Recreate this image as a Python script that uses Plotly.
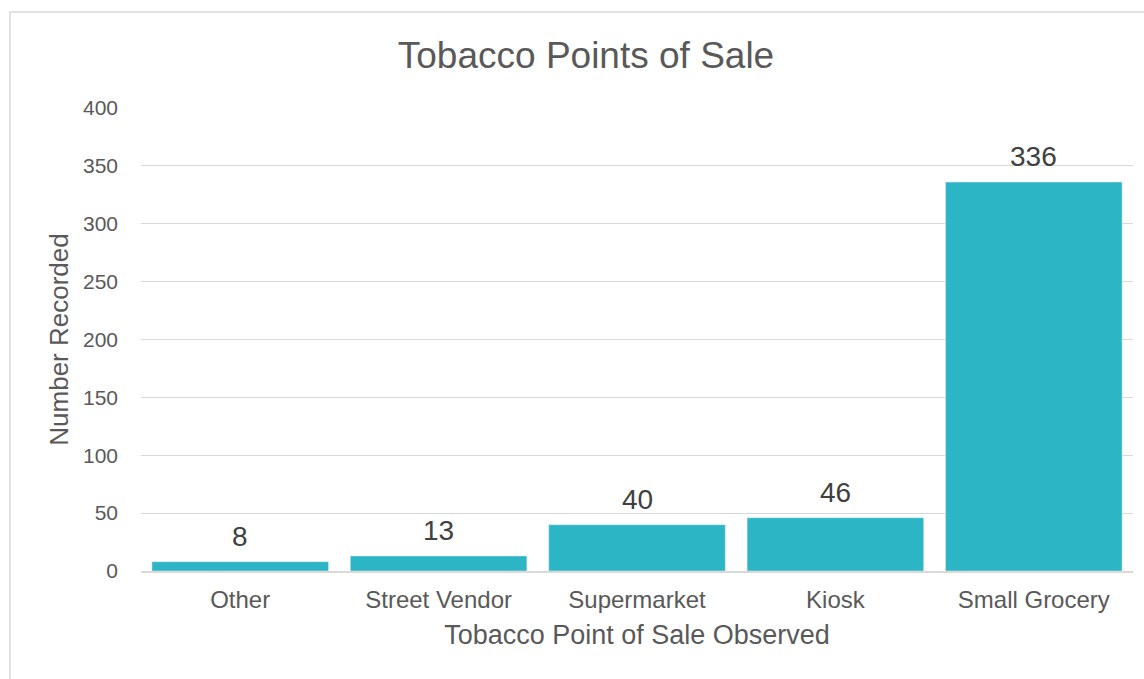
import plotly.graph_objects as go

categories = ["Other", "Street Vendor", "Supermarket", "Kiosk", "Small Grocery"]
counts = [8, 13, 40, 46, 336]
y_ticks = [0, 50, 100, 150, 200, 250, 300, 350, 400]

BAR = "#2CB5C4"
TXT = "#595959"
FONT = "Arial, 'Liberation Sans', sans-serif"

W, H = 1144, 679
L, R, T, B = 141, 11, 108, 108
pw, ph = W - L - R, H - T - B

fig = go.Figure(go.Bar(x=categories, y=counts, marker_color=BAR, width=0.89))

for c, v in zip(categories, counts):
    fig.add_annotation(x=c, y=v, text=str(v), showarrow=False, yanchor="bottom",
                       yshift=8, font=dict(size=28, color="#404040", family=FONT))

# outer chart border
fig.add_shape(type="rect", xref="paper", yref="paper",
              x0=(10 - L) / pw, x1=(1162 - L) / pw,
              y0=-(700 - (H - B)) / ph, y1=1 + (T - 12) / ph,
              line=dict(color="#D9D9D9", width=1.5), fillcolor="rgba(0,0,0,0)", layer="below")

fig.update_layout(
    width=W, height=H,
    margin=dict(l=L, r=R, t=T, b=B),
    paper_bgcolor="white", plot_bgcolor="white",
    font=dict(family=FONT, color=TXT, size=22),
    title=dict(text="Tobacco Points of Sale", x=586 / W, xanchor="center",
               y=1 - 55 / H, yanchor="middle",
               font=dict(size=37, color=TXT)),
    bargap=0.11,
    showlegend=False,
)
fig.update_xaxes(
    showgrid=False, showline=True, linecolor="#D9D9D9", linewidth=1.5,
    ticks="", ticklabelstandoff=6, tickfont=dict(size=24, color=TXT),
    title=dict(text="Tobacco Point of Sale Observed", font=dict(size=27, color=TXT), standoff=14),
)
fig.update_yaxes(
    range=[0, 400], tickvals=y_ticks, showgrid=True, gridcolor="#D9D9D9", gridwidth=1.2,
    zeroline=False, ticks="", ticklabelstandoff=22, tickfont=dict(size=21, color=TXT),
    title=dict(text="Number Recorded", font=dict(size=26, color=TXT), standoff=6),
)

fig.write_html("out.html")
